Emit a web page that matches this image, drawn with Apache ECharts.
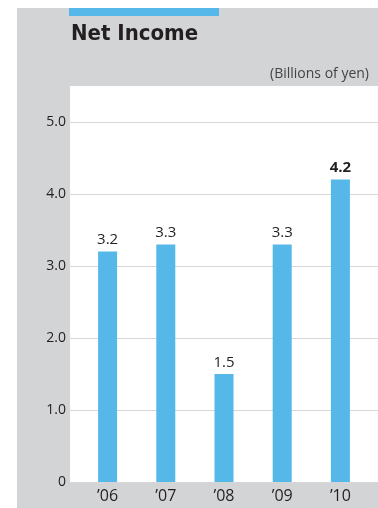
<!DOCTYPE html>
<html>
<head>
<meta charset="utf-8">
<script src="https://cdn.jsdelivr.net/npm/echarts@6/dist/echarts.min.js"></script>
<style>
  html, body { margin: 0; padding: 0; background: #fff; }
  #chart { width: 378px; height: 508px; }
</style>
</head>
<body>
<div id="chart"></div>
<script>
  // data
  var years = ['\u201906', '\u201907', '\u201908', '\u201909', '\u201910'];
  var netIncome = [3.2, 3.3, 1.5, 3.3, 4.2];
  var yTickLabels = ['0', '1.0', '2.0', '3.0', '4.0', '5.0'];

  var blue = '#55b8e8';
  var gray = '#d3d4d6';
  var ink = '#231f20';
  var font = 'Open Sans';

  var chart = echarts.init(document.getElementById('chart'));

  var option = {
    animation: false,
    textStyle: { fontFamily: font },
    graphic: [
      // panel background
      { type: 'rect', z: -10, shape: { x: 17, y: 8, width: 361, height: 500 }, style: { fill: gray } },
      // white plot area
      { type: 'rect', z: -9, shape: { x: 70, y: 86, width: 308, height: 397 }, style: { fill: '#fff' } },
      // blue strip on top
      { type: 'rect', z: -9, shape: { x: 69, y: 8, width: 150, height: 8 }, style: { fill: blue } },
      {
        type: 'text', x: 71, y: 34,
        style: {
          text: 'Net Income', fill: ink,
          font: 'bold 22px "DejaVu Sans Condensed"',
          textVerticalAlign: 'middle'
        }
      },
      {
        type: 'text', x: 369, y: 74,
        style: {
          text: '(Billions of yen)', fill: '#444',
          font: '14px "Open Sans"',
          textAlign: 'right', textVerticalAlign: 'middle'
        }
      }
    ],
    grid: [
      { left: 70, right: 0, top: 122, bottom: 26 },
      { left: 78.5, right: 8.5, top: 122, bottom: 26 }
    ],
    xAxis: [
      { type: 'category', gridIndex: 0, data: years, show: false },
      {
        type: 'category', gridIndex: 1, data: years,
        axisLine: { show: false },
        axisTick: { show: false },
        axisLabel: { color: ink, fontSize: 16, margin: 6 }
      }
    ],
    yAxis: [
      {
        type: 'value', gridIndex: 0, min: 0, max: 5, interval: 1,
        axisLine: { show: false },
        axisTick: { show: false },
        axisLabel: {
          color: ink, fontSize: 14, margin: 4,
          formatter: function (v, i) { return yTickLabels[i]; }
        },
        splitLine: { lineStyle: { color: '#d6d6d6', width: 1 } }
      },
      {
        type: 'value', gridIndex: 1, min: 0, max: 5, interval: 1,
        show: false, splitLine: { show: false }
      }
    ],
    series: [
      {
        type: 'bar',
        xAxisIndex: 1,
        yAxisIndex: 1,
        barWidth: 19,
        itemStyle: { color: blue },
        label: {
          show: true,
          position: 'top',
          distance: 4,
          color: ink,
          fontSize: 15,
          formatter: function (p) { return p.value.toFixed(1); }
        },
        data: netIncome.map(function (v, i) {
          var d = { value: v };
          if (i === netIncome.length - 1) {
            d.label = { fontWeight: 'bold' };
          }
          return d;
        })
      }
    ]
  };

  chart.setOption(option);
</script>
</body>
</html>
